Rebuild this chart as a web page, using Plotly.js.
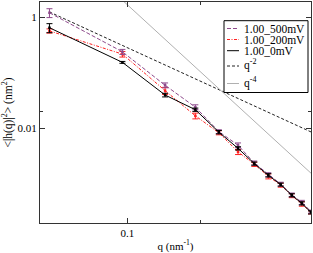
<!DOCTYPE html>
<html>
<head>
<meta charset="utf-8">
<script src="https://cdn.plot.ly/plotly-3.0.1.min.js"></script>
<style>html,body{margin:0;padding:0;background:#fff;}#chart{width:313px;height:253px;}</style>
</head>
<body>
<div id="chart"></div>
<script>
// ---- data ----
const q = [0.0477, 0.0954, 0.1431, 0.1908, 0.2385, 0.2862, 0.3339, 0.3816, 0.4293, 0.4770, 0.5247, 0.5724];
const y500 = [1.21, 0.240, 0.060, 0.0242, 0.0088, 0.0050, 0.00240, 0.00148, 0.00100, 0.00064, 0.00047, 0.00032];
const e500 = [0.22, 0.025, 0.006, 0.0025, 0.0007, 0.0005, 0.0002, 0.00012, 0.00008, 0.00005, 0.00004, 0.00002];
const y200 = [0.57, 0.218, 0.048, 0.0169, 0.0084, 0.0038, 0.00228, 0.00138, 0.00096, 0.00062, 0.00044, 0.00031];
const e200 = [0.05, 0.025, 0.007, 0.0020, 0.0007, 0.0004, 0.0002, 0.00014, 0.00008, 0.00005, 0.00004, 0.00002];
const y0 = [0.65, 0.155, 0.040, 0.0218, 0.0086, 0.0044, 0.00234, 0.00144, 0.00098, 0.00063, 0.00045, 0.00031];
const e0 = [0.12, 0.006, 0.003, 0.0015, 0.0006, 0.0003, 0.00015, 0.0001, 0.00006, 0.00004, 0.00003, 0.00002];
const qRef = [0.0477, 0.5724];
const yQ2 = [1.25, 0.00868];
const yQ4 = [32.5, 0.00157];
const names = ['1.00_500mV', '1.00_200mV', '1.00_0mV', 'q<sup>-2</sup>', 'q<sup>-4</sup>'];
const yTickVals = [1, 0.01];
const yTickText = ['1', '0.01'];
const xTickVals = [0.1];
const xTickText = ['0.1'];

// ---- styles ----
const FONT = 'Liberation Serif, Times New Roman, serif';
const colors = ['#8e4a8c', '#ff2020', '#000000', '#222222', '#b0b0b0'];
const dashes = ['4px,2px', '3px,1.5px,1px,1.5px', 'solid', '3px,2px', 'solid'];

function series(y, e, i) {
  return {
    x: q, y: y, type: 'scatter', mode: 'lines+markers',
    line: {color: colors[i], dash: dashes[i], width: 1},
    marker: {symbol: 'square', size: 2.5, color: colors[i]},
    error_y: {type: 'data', array: e, visible: true, color: colors[i], thickness: 1, width: 3},
    name: names[i]
  };
}
const traces = [
  {x: qRef, y: yQ2, type: 'scatter', mode: 'lines', line: {color: colors[3], dash: dashes[3], width: 1}, name: names[3]},
  {x: qRef, y: yQ4, type: 'scatter', mode: 'lines', line: {color: colors[4], dash: dashes[4], width: 1}, name: names[4]},
  series(y200, e200, 1),
  series(y500, e500, 0),
  series(y0, e0, 2)
];

// custom legend (pixel layout converted to paper coords)
const L = 40, T = 2, W = 271, H = 221;
const px = v => (v - L) / W;
const py = v => 1 - (v - T) / H;
const shapes = [{type: 'rect', xref: 'paper', yref: 'paper', x0: px(224), x1: px(308), y0: py(92.5), y1: py(20.7), line: {color: '#000', width: 1}, fillcolor: '#fff'}];
const annotations = [];
const rowY = [28.5, 39.5, 50.7, 66, 83.5];
const textY = [28.5, 39.5, 50.7, 64.5, 82];
for (let i = 0; i < 5; i++) {
  shapes.push({type: 'line', xref: 'paper', yref: 'paper', x0: px(227), x1: px(239), y0: py(rowY[i]), y1: py(rowY[i]), line: {color: colors[i], dash: dashes[i], width: 1}});
  annotations.push({xref: 'paper', yref: 'paper', x: px(242), y: py(textY[i]), xanchor: 'left', yanchor: 'middle', showarrow: false, text: names[i], font: {family: FONT, size: 11.5, color: '#000'}});
}

const axisCommon = {
  type: 'log', showgrid: false, zeroline: false, showline: true, linecolor: '#333', linewidth: 1,
  mirror: 'ticks', ticks: 'inside', ticklen: 5, tickcolor: '#333', tickwidth: 1,
  tickfont: {family: FONT, size: 11, color: '#000'}, tickmode: 'array'
};
const layout = {
  width: 313, height: 253,
  margin: {l: L, r: 313 - L - W, t: T, b: 253 - T - H},
  paper_bgcolor: '#fff', plot_bgcolor: '#fff',
  showlegend: false,
  xaxis: Object.assign({}, axisCommon, {
    range: [-1.3605, -0.2423], tickvals: xTickVals, ticktext: xTickText,
    minor: {tickmode: 'array', tickvals: [0.2], ticks: 'inside', ticklen: 3, tickcolor: '#333'},
    title: {text: 'q (nm<sup>-1</sup>)', font: {family: FONT, size: 11, color: '#000'}, standoff: 10}
  }),
  yaxis: Object.assign({}, axisCommon, {
    range: [-3.70, 0.276], tickvals: yTickVals, ticktext: yTickText,
    minor: {tickmode: 'array', tickvals: [0.02], ticks: 'inside', ticklen: 3, tickcolor: '#333'},
    title: {text: '<|h(q)|<sup>2</sup>> (nm<sup>2</sup>)', font: {family: FONT, size: 11.5, color: '#000'}, standoff: 4}
  }),
  shapes: shapes,
  annotations: annotations
};
Plotly.newPlot('chart', traces, layout, {staticPlot: true, displayModeBar: false});
</script>
</body>
</html>
